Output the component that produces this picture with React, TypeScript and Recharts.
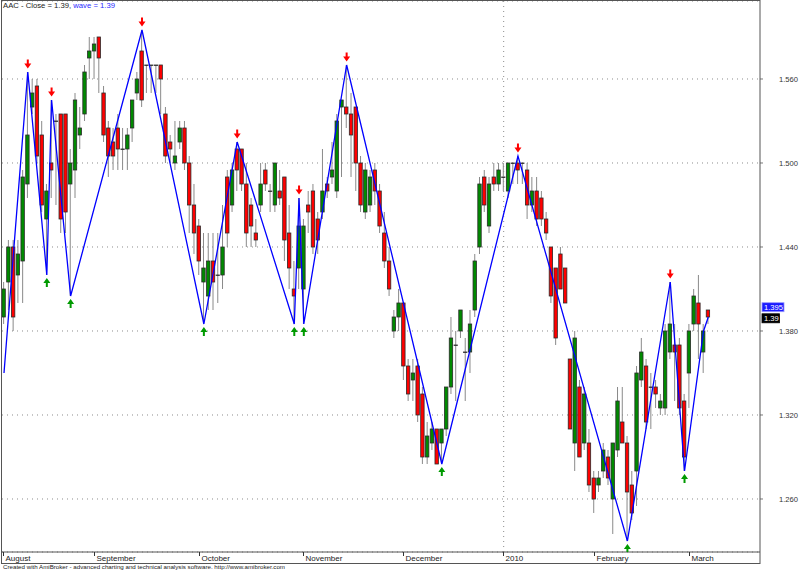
import React from "react";
import {
  ComposedChart,
  Bar,
  Line,
  XAxis,
  YAxis,
  CartesianGrid,
  ReferenceLine,
} from "recharts";

const FONT = '"Liberation Sans", Arial, sans-serif';
const GREEN = "#008a00";
const RED = "#ff0000";

// daily OHLC, Aug 2009 - Mar 2010
const opens = [
  1.39, 1.415, 1.44, 1.42, 1.43, 1.485, 1.54, 1.555, 1.52, 1.46,
  1.5, 1.53, 1.535, 1.535, 1.485, 1.495, 1.52, 1.535, 1.575, 1.58,
  1.59, 1.55, 1.525, 1.515, 1.525, 1.51, 1.51, 1.525, 1.55, 1.58,
  1.57, 1.57, 1.57, 1.57, 1.535, 1.515, 1.5, 1.515, 1.525, 1.5,
  1.47, 1.455, 1.415, 1.405, 1.43, 1.42, 1.42, 1.49, 1.47, 1.51,
  1.51, 1.485, 1.47, 1.45, 1.47, 1.495, 1.48, 1.47, 1.48, 1.49,
  1.45, 1.41, 1.425, 1.41, 1.47, 1.48, 1.46, 1.465, 1.485, 1.49,
  1.48, 1.54, 1.54, 1.535, 1.54, 1.5, 1.465, 1.47, 1.495, 1.48,
  1.45, 1.43, 1.38, 1.39, 1.4, 1.355, 1.345, 1.355, 1.335, 1.29,
  1.3, 1.31, 1.3, 1.31, 1.34, 1.37, 1.38, 1.365, 1.365, 1.395,
  1.44, 1.49, 1.455, 1.49, 1.485, 1.49, 1.48, 1.5, 1.5, 1.5,
  1.495, 1.47, 1.48, 1.475, 1.46, 1.44, 1.425, 1.435, 1.425, 1.36,
  1.3, 1.34, 1.3, 1.3, 1.275, 1.27, 1.28, 1.29, 1.26, 1.295,
  1.315, 1.3, 1.27, 1.28, 1.345, 1.355, 1.34, 1.34, 1.325, 1.325,
  1.365, 1.37, 1.37, 1.33, 1.35, 1.385, 1.4, 1.365, 1.395,
];
const highs = [
  1.415, 1.445, 1.445, 1.445, 1.495, 1.565, 1.56, 1.56, 1.53, 1.485,
  1.545, 1.535, 1.535, 1.535, 1.51, 1.55, 1.54, 1.57, 1.59, 1.59,
  1.59, 1.555, 1.53, 1.525, 1.535, 1.525, 1.525, 1.545, 1.565, 1.595,
  1.57, 1.57, 1.57, 1.57, 1.54, 1.52, 1.53, 1.53, 1.53, 1.505,
  1.485, 1.46, 1.45, 1.45, 1.45, 1.45, 1.47, 1.495, 1.5, 1.515,
  1.51, 1.5, 1.475, 1.46, 1.5, 1.5, 1.485, 1.5, 1.495, 1.49,
  1.47, 1.43, 1.475, 1.46, 1.48, 1.485, 1.465, 1.51, 1.49, 1.515,
  1.535, 1.545, 1.57, 1.55, 1.54, 1.505, 1.5, 1.495, 1.5, 1.485,
  1.465, 1.44, 1.395, 1.41, 1.4, 1.36, 1.36, 1.36, 1.34, 1.315,
  1.315, 1.31, 1.31, 1.34, 1.39, 1.38, 1.395, 1.375, 1.395, 1.435,
  1.49, 1.495, 1.49, 1.5, 1.5, 1.5, 1.5, 1.5, 1.505, 1.5,
  1.5, 1.49, 1.49, 1.48, 1.465, 1.44, 1.425, 1.44, 1.425, 1.36,
  1.38, 1.345, 1.34, 1.31, 1.28, 1.28, 1.3, 1.295, 1.3, 1.34,
  1.34, 1.305, 1.28, 1.355, 1.375, 1.36, 1.35, 1.345, 1.335, 1.385,
  1.415, 1.385, 1.375, 1.335, 1.385, 1.41, 1.42, 1.385, 1.395,
];
const lows = [
  1.385, 1.395, 1.38, 1.4, 1.4, 1.475, 1.535, 1.5, 1.465, 1.42,
  1.475, 1.47, 1.45, 1.45, 1.405, 1.475, 1.51, 1.53, 1.56, 1.56,
  1.55, 1.515, 1.49, 1.495, 1.495, 1.495, 1.495, 1.515, 1.545, 1.54,
  1.55, 1.55, 1.55, 1.535, 1.5, 1.5, 1.495, 1.51, 1.495, 1.45,
  1.435, 1.42, 1.385, 1.395, 1.395, 1.4, 1.41, 1.44, 1.465, 1.48,
  1.48, 1.44, 1.44, 1.44, 1.465, 1.48, 1.465, 1.465, 1.47, 1.43,
  1.41, 1.385, 1.41, 1.385, 1.45, 1.435, 1.435, 1.46, 1.475, 1.485,
  1.475, 1.49, 1.525, 1.49, 1.48, 1.465, 1.46, 1.465, 1.47, 1.45,
  1.425, 1.405, 1.375, 1.38, 1.345, 1.33, 1.33, 1.315, 1.285, 1.285,
  1.295, 1.285, 1.285, 1.305, 1.335, 1.33, 1.375, 1.33, 1.35, 1.39,
  1.435, 1.465, 1.45, 1.48, 1.48, 1.48, 1.475, 1.485, 1.485, 1.485,
  1.46, 1.465, 1.455, 1.455, 1.445, 1.4, 1.37, 1.41, 1.4, 1.31,
  1.28, 1.29, 1.295, 1.265, 1.25, 1.265, 1.275, 1.27, 1.235, 1.29,
  1.3, 1.23, 1.245, 1.255, 1.34, 1.31, 1.31, 1.325, 1.32, 1.32,
  1.36, 1.33, 1.32, 1.28, 1.325, 1.38, 1.36, 1.35, 1.385,
];
const closes = [
  1.41, 1.44, 1.39, 1.435, 1.49, 1.52, 1.55, 1.505, 1.47, 1.48,
  1.495, 1.53, 1.46, 1.465, 1.5, 1.545, 1.525, 1.565, 1.58, 1.585,
  1.575, 1.52, 1.505, 1.505, 1.51, 1.51, 1.52, 1.545, 1.56, 1.545,
  1.57, 1.57, 1.57, 1.56, 1.505, 1.51, 1.505, 1.525, 1.5, 1.47,
  1.45, 1.43, 1.425, 1.43, 1.415, 1.42, 1.44, 1.45, 1.495, 1.495,
  1.485, 1.45, 1.455, 1.445, 1.485, 1.485, 1.48, 1.5, 1.475, 1.445,
  1.425, 1.405, 1.455, 1.455, 1.465, 1.44, 1.445, 1.48, 1.48, 1.495,
  1.53, 1.545, 1.535, 1.52, 1.5, 1.47, 1.495, 1.49, 1.48, 1.455,
  1.43, 1.41, 1.39, 1.4, 1.355, 1.335, 1.35, 1.32, 1.29, 1.305,
  1.31, 1.285, 1.31, 1.34, 1.375, 1.37, 1.395, 1.365, 1.385, 1.43,
  1.485, 1.47, 1.485, 1.485, 1.495, 1.49, 1.5, 1.5, 1.495, 1.5,
  1.47, 1.48, 1.46, 1.46, 1.45, 1.405, 1.375, 1.41, 1.4, 1.31,
  1.375, 1.29, 1.335, 1.27, 1.26, 1.275, 1.295, 1.275, 1.3, 1.33,
  1.3, 1.265, 1.25, 1.35, 1.365, 1.315, 1.34, 1.335, 1.33, 1.38,
  1.385, 1.365, 1.325, 1.29, 1.38, 1.405, 1.385, 1.38, 1.39,
];

// zig-zag "wave" turning points
const waveIdx = [0, 5, 9, 10, 14, 29, 42, 49, 61, 62, 63, 72, 92, 108, 131, 140, 143, 147, 148];
const waveVal = [1.35, 1.565, 1.42, 1.545, 1.405, 1.595, 1.385, 1.515, 1.385, 1.475, 1.385, 1.57, 1.285, 1.505, 1.23, 1.415, 1.28, 1.38, 1.39];
const peakIdx = [5, 10, 29, 49, 62, 72, 108, 140];
const troughIdx = [9, 14, 42, 61, 63, 92, 131, 143];

const monthIdx = [0, 19, 41, 63, 84, 105, 124, 144];
const monthNames = ["August", "September", "October", "November", "December", "2010", "February", "March"];
const yearIdx = 105;
const priceTicks = [1.26, 1.32, 1.38, 1.44, 1.5, 1.56];

const rows = opens.map((o, i) => {
  const w = waveIdx.indexOf(i);
  return {
    i,
    o,
    h: highs[i],
    l: lows[i],
    c: closes[i],
    range: [lows[i], highs[i]],
    wave: w >= 0 ? waveVal[w] : null,
    peak: peakIdx.includes(i) ? highs[i] : null,
    trough: troughIdx.includes(i) ? lows[i] : null,
  };
});

const Candle = (props: any) => {
  const { x, y, width, height, payload } = props;
  if (!payload || !Number.isFinite(x) || !Number.isFinite(y)) return null;
  const { o, h, l, c } = payload;
  const k = h > l ? height / (h - l) : 0;
  const py = (v: number) => y + (h - v) * k;
  const cx = x + width / 2;
  const top = py(Math.max(o, c));
  const bot = py(Math.min(o, c));
  const fill = c > o ? GREEN : c < o ? RED : "#303030";
  return (
    <g>
      <line x1={cx} x2={cx} y1={y} y2={y + height} stroke="#8a8a8a" strokeWidth={1} />
      <rect
        x={cx - 1.7}
        y={top}
        width={3.4}
        height={Math.max(bot - top, 0.4)}
        fill={fill}
        stroke="#2a2a2a"
        strokeWidth={0.8}
      />
    </g>
  );
};

const DownArrow = (props: any) => {
  const { cx, cy } = props;
  if (cx == null || cy == null || !Number.isFinite(cy)) return null;
  const t = cy - 3.5;
  return (
    <path
      d={`M${cx - 1} ${t - 9}h2v4h2.5l-3.5 5l-3.5 -5h2.5z`}
      fill="#ff0000"
    />
  );
};

const UpArrow = (props: any) => {
  const { cx, cy } = props;
  if (cx == null || cy == null || !Number.isFinite(cy)) return null;
  const t = cy + 3;
  return (
    <path
      d={`M${cx - 1} ${t + 9}h2v-4h2.5l-3.5 -5l-3.5 5h2.5z`}
      fill="#009a00"
    />
  );
};

const MonthTick = (props: any) => {
  const { x, y, payload } = props;
  const k = monthIdx.indexOf(payload.value);
  const tx = Math.round(x - 0.6) + 0.5;
  return (
    <g>
      <line x1={tx} x2={tx} y1={y} y2={y + 4} stroke="#333" />
      <text x={tx + 2} y={y + 9} fontSize={8} fill="#222" fontFamily={FONT}>
        {monthNames[k]}
      </text>
    </g>
  );
};

const PriceTag = (props: any) => {
  const { viewBox, text, bg, border, w, dy } = props;
  if (!viewBox) return null;
  const x0 = viewBox.x + viewBox.width + 2;
  const yc = viewBox.y + dy;
  return (
    <g>
      <rect x={x0} y={yc - 4.5} width={w} height={9} fill={bg} stroke={border} strokeWidth={0.8} />
      <text x={x0 + 2} y={yc + 3} fontSize={7.6} fill="#fff" fontFamily={FONT}>
        {text}
      </text>
    </g>
  );
};

export default function App() {
  return (
    <div
      style={{
        position: "fixed",
        left: 0,
        top: 0,
        width: 800,
        height: 571,
        background: "#fff",
        overflow: "hidden",
      }}
    >
      <ComposedChart
        width={800}
        height={564}
        data={rows}
        margin={{ top: 1, right: 0, bottom: 0, left: 2 }}
      >
        <CartesianGrid
          vertical={false}
          stroke="#8c8c8c"
          strokeDasharray="1 4"
        />
        <XAxis
          dataKey="i"
          type="number"
          domain={[-0.42, 158.86]}
          allowDataOverflow
          ticks={monthIdx}
          interval={0}
          height={12}
          tickSize={0}
          tickMargin={0}
          tickLine={false}
          axisLine={{ stroke: "#555" }}
          tick={<MonthTick />}
        />
        <YAxis
          orientation="right"
          type="number"
          domain={[1.22214, 1.61571]}
          allowDataOverflow
          ticks={priceTicks}
          interval={0}
          width={40}
          axisLine={false}
          tickSize={3}
          tickMargin={16}
          tickLine={{ stroke: "#777" }}
          tickFormatter={(v: number) => v.toFixed(3)}
          tick={{ fill: "#333", fontSize: 7.6, fontFamily: FONT }}
        />
        <ReferenceLine
          x={yearIdx}
          stroke="#8c8c8c"
          strokeDasharray="1 4"
        />
        <Bar
          dataKey="range"
          barSize={4}
          shape={<Candle />}
          isAnimationActive={false}
        />
        <Line
          dataKey="wave"
          type="linear"
          connectNulls
          stroke="#0000ff"
          strokeWidth={1.3}
          dot={false}
          activeDot={false}
          isAnimationActive={false}
        />
        <Line
          dataKey="peak"
          stroke="none"
          dot={<DownArrow />}
          activeDot={false}
          isAnimationActive={false}
        />
        <Line
          dataKey="trough"
          stroke="none"
          dot={<UpArrow />}
          activeDot={false}
          isAnimationActive={false}
        />
        <ReferenceLine
          y={1.395}
          stroke="none"
          label={<PriceTag text="1.395" bg="#1a1aff" border="#9a9aff" w={22} dy={-2.8} />}
        />
        <ReferenceLine
          y={1.39}
          stroke="none"
          label={<PriceTag text="1.39" bg="#000" border="#000" w={17.5} dy={1.3} />}
        />
      </ComposedChart>
      <svg
        width={800}
        height={571}
        style={{ position: "absolute", left: 0, top: 0, pointerEvents: "none" }}
      >
        <rect x={1.5} y={0.5} width={758.5} height={563} fill="none" stroke="#555" />
        <text x={3} y={8.3} fontSize={7.7} fontFamily={FONT}>
          <tspan fill="#222">AAC - Close = 1.39, </tspan>
          <tspan fill="#2a2aff">wave = 1.39</tspan>
        </text>
        <text
          x={3}
          y={569}
          fontSize={6}
          fill="#222"
          fontFamily={FONT}
          textLength={282}
          lengthAdjust="spacingAndGlyphs"
        >
          Created with AmiBroker - advanced charting and technical analysis software. http://www.amibroker.com
        </text>
      </svg>
    </div>
  );
}
